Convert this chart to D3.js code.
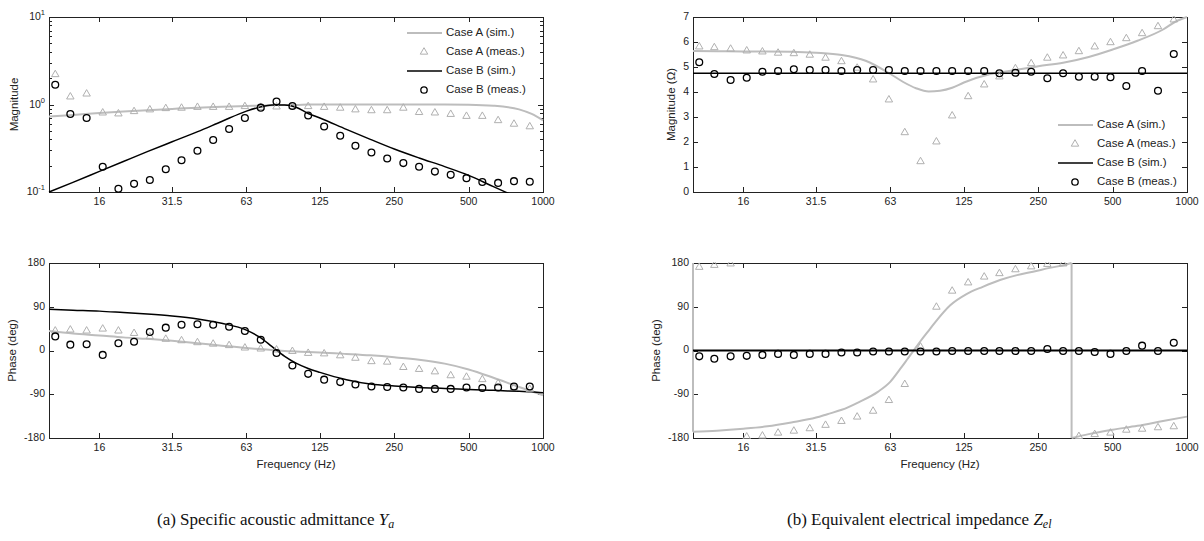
<!DOCTYPE html>
<html>
<head>
<meta charset="utf-8">
<script src="https://cdn.jsdelivr.net/npm/d3@7"></script>
<style>
  body { margin: 0; background: #fff; }
  svg text { font-family: "Liberation Sans", Arial, sans-serif; fill: #222; }
  .cap text, text.cap { font-family: "Liberation Serif", "Times New Roman", serif; fill: #111; }
</style>
</head>
<body>
<svg id="chart" width="1204" height="541"></svg>
<script>
// measured frequencies (1/5-ish octave steps)
const measFreq = [10.6, 12.2, 14.2, 16.5, 19.1, 22.1, 25.6, 29.7, 34.4, 39.9, 46.2, 53.6, 62.1, 72.0, 83.4, 96.7,
  112, 130, 151, 174, 202, 234, 272, 315, 365, 423, 490, 568, 658, 763, 884];

// (a) admittance magnitude
const admMagAMeas = [2.25, 1.25, 1.35, 0.82, 0.80, 0.85, 0.89, 0.92, 0.93, 0.95, 0.95, 0.95, 0.97, 0.95, 0.96, 0.97,
  0.97, 0.95, 0.93, 0.89, 0.87, 0.87, 0.93, 0.83, 0.82, 0.79, 0.75, 0.75, 0.67, 0.61, 0.57];
const admMagBMeas = [1.68, 0.78, 0.70, 0.194, 0.109, 0.124, 0.137, 0.182, 0.231, 0.296, 0.393, 0.525, 0.70, 0.92, 1.08, 0.96,
  0.75, 0.56, 0.44, 0.338, 0.283, 0.241, 0.214, 0.194, 0.171, 0.157, 0.144, 0.130, 0.127, 0.133, 0.131];
// (a) admittance phase
const admPhAMeas = [42, 44, 42, 46, 42, 37, 30, 25, 22, 18, 15, 12, 7, 5, 3, 0,
  -4, -5, -9, -14, -21, -22, -33, -37, -42, -50, -53, -58, -66, -74, -78];
const admPhBMeas = [29, 12, 13, -9, 15, 18, 38, 47, 53, 54, 53, 49, 40, 22, -5, -31,
  -48, -60, -65, -70, -74, -75, -76, -79, -79, -79, -76, -77, -76, -74, -74];

// (b) impedance magnitude
const impMagAMeas = [5.84, 5.81, 5.75, 5.68, 5.64, 5.59, 5.57, 5.51, 5.39, 5.25, 4.99, 4.52, 3.72, 2.41, 1.25,
  2.04, 3.08, 3.85, 4.32, 4.64, 4.97, 5.17, 5.39, 5.48, 5.65, 5.84, 6.01, 6.17, 6.37, 6.65, 6.92];
const impMagBMeas = [5.19, 4.72, 4.48, 4.57, 4.81, 4.84, 4.91, 4.88, 4.88, 4.84, 4.88, 4.88, 4.88, 4.84, 4.84,
  4.84, 4.84, 4.84, 4.84, 4.75, 4.77, 4.81, 4.55, 4.75, 4.61, 4.61, 4.59, 4.24, 4.84, 4.05, 5.52];
// (b) impedance phase
const impPhAMeas = [173, 177, 180, -176, -174, -168, -164, -159, -152, -144, -135, -123, -101, -68, 9,
  91, 124, 141, 153, 160, 168, 174, 179, 180, -175, -171, -168, -162, -160, -157, -155];
const impPhBMeas = [-12, -17, -12, -11, -9, -7, -9, -7, -7, -4, -4, -2, -2, -2, -2, -2, -1,
  -1, -1, -1, -1, -1, 3, -1, -1, -3, -7, -1, 10, -1, 16];

// simulated curves
const simFreq = [10, 12.5, 16, 20, 25, 31.5, 40, 50, 63, 71, 80, 90, 100, 112, 125, 160, 200, 250, 315, 400, 500, 630, 800, 900, 1000];
const admMagASim = [0.73, 0.76, 0.80, 0.83, 0.86, 0.89, 0.92, 0.94, 0.96, 0.97, 0.98, 0.99, 0.99, 1.0, 1.0, 1.0, 1.0, 1.0, 1.0, 1.0, 0.995, 0.97, 0.88, 0.78, 0.66];
const admMagBSim = [0.10, 0.129, 0.172, 0.223, 0.289, 0.375, 0.49, 0.64, 0.84, 0.93, 0.99, 0.99, 0.93, 0.79, 0.70, 0.52, 0.40, 0.31, 0.245, 0.195, 0.155, 0.115, 0.085, 0.073, 0.063];
const admPhASim = [40, 35, 31, 27, 24, 20, 15, 10, 5, 3, 1, -1, -2, -3, -4, -7, -10, -14, -19, -27, -39, -56, -75, -84, -92];
const admPhBSim = [85, 83, 81, 78, 75, 71, 65, 56, 42, 28, 8, -12, -26, -37, -45, -60, -69, -73, -76, -78, -80, -82, -84, -85, -87];
const impMagASim = [5.64, 5.63, 5.62, 5.62, 5.61, 5.57, 5.48, 5.25, 4.72, 4.40, 4.15, 4.02, 4.05, 4.17, 4.38, 4.72, 4.87, 5.03, 5.17, 5.40, 5.70, 6.05, 6.50, 6.82, 7.0];
const flatFreq = [10, 1000];
const impMagBSim = [4.75, 4.75];
const impPhBSim = [0, 0];
// phase of case A wraps at +-180
const impPhAFreq = [10, 10, 12.5, 16, 20, 25, 31.5, 35, 40, 47, 56, 63, 69, 74, 77, 83, 91, 97, 110, 128, 149, 175, 205, 238, 278, 326, 341, 341, 400, 500, 630, 800, 1000];
const impPhASim = [180, -167, -165, -161, -156, -148, -138, -131, -122, -106, -85, -64, -38, -17, -5, 18, 44, 62, 93, 116, 131, 145, 155, 162, 170, 177, 180, -180, -172, -163, -155, -145, -136];

const xTicks = [16, 31.5, 63, 125, 250, 500, 1000];
const xTickLabels = ["16", "31.5", "63", "125", "250", "500", "1000"];
const phaseTicks = [-180, -90, 0, 90, 180];
const ohmTicks = [0, 1, 2, 3, 4, 5, 6, 7];
const legendNames = ["Case A (sim.)", "Case A (meas.)", "Case B (sim.)", "Case B (meas.)"];

const GREY = "#bdbdbd", GREYM = "#b0b0b0", BLACK = "#000";
const svg = d3.select("#chart");
let clipId = 0;

function zip(f, v) { return f.map((d, i) => ({ f: d, v: v[i] })); }

function panel(o) {
  const x = d3.scaleLog().domain([10, 1000]).range([o.x0, o.x0 + 494]);
  const y = o.y;
  const g = svg.append("g");
  const top = y.range()[1], bot = y.range()[0];
  const cid = "clip" + (clipId++);
  svg.append("clipPath").attr("id", cid).append("rect")
    .attr("x", o.x0 - 1).attr("y", top - 1).attr("width", 496).attr("height", bot - top + 2);

  // frame
  g.append("rect").attr("x", o.x0 + 0.5).attr("y", top + 0.5).attr("width", 494).attr("height", bot - top)
    .attr("fill", "none").attr("stroke", "#222").attr("stroke-width", 1);

  // x ticks top & bottom
  xTicks.forEach((t, i) => {
    const px = Math.round(x(t)) + 0.5;
    if (t < 1000) {
      g.append("line").attr("x1", px).attr("x2", px).attr("y1", bot).attr("y2", bot - 5).attr("stroke", "#222");
      g.append("line").attr("x1", px).attr("x2", px).attr("y1", top).attr("y2", top + 5).attr("stroke", "#222");
    }
    g.append("text").attr("x", x(t)).attr("y", bot + 10).attr("text-anchor", "middle")
      .attr("dominant-baseline", "middle").attr("font-size", 10.5).text(xTickLabels[i]);
  });

  // y ticks
  const x1 = o.x0 + 494;
  o.yTicks.forEach(t => {
    const py = Math.round(y(t)) + 0.5;
    g.append("line").attr("x1", o.x0).attr("x2", o.x0 + 5).attr("y1", py).attr("y2", py).attr("stroke", "#222");
    g.append("line").attr("x1", x1).attr("x2", x1 - 5).attr("y1", py).attr("y2", py).attr("stroke", "#222");
  });
  (o.yMinor || []).forEach(t => {
    const py = Math.round(y(t)) + 0.5;
    g.append("line").attr("x1", o.x0).attr("x2", o.x0 + 3).attr("y1", py).attr("y2", py).attr("stroke", "#222");
    g.append("line").attr("x1", x1).attr("x2", x1 - 3).attr("y1", py).attr("y2", py).attr("stroke", "#222");
  });
  o.yTicks.forEach(t => {
    const tx = g.append("text").attr("x", o.x0 - 4).attr("y", y(t)).attr("text-anchor", "end")
      .attr("dominant-baseline", "middle").attr("font-size", 10.5);
    if (o.log) {
      tx.append("tspan").text("10");
      tx.append("tspan").attr("dy", -4).attr("font-size", 7.5).text(Math.round(Math.log10(t)));
    } else tx.text(t);
  });

  // axis labels
  g.append("text").attr("transform", `translate(${o.ylabX},${(top + bot) / 2}) rotate(-90)`)
    .attr("text-anchor", "middle").attr("dominant-baseline", "middle").attr("font-size", 11.5).text(o.ylabel);
  if (o.xlabel) {
    g.append("text").attr("x", o.x0 + 247).attr("y", bot + 27).attr("text-anchor", "middle")
      .attr("dominant-baseline", "middle").attr("font-size", 11.5).text(o.xlabel);
  }

  const data = svg.append("g").attr("clip-path", `url(#${cid})`);
  // lines (split at wraps where freq repeats)
  o.lines.forEach(L => {
    const pts = zip(L.f, L.v);
    const segs = [[pts[0]]];
    for (let i = 1; i < pts.length; i++) {
      if (pts[i].f === pts[i - 1].f) segs.push([pts[i]]);
      else segs[segs.length - 1].push(pts[i]);
    }
    const line = d3.line().x(d => x(d.f)).y(d => y(d.v)).curve(d3.curveMonotoneX);
    segs.forEach((s, k) => {
      if (s.length > 1) data.append("path").attr("d", line(s)).attr("fill", "none")
        .attr("stroke", L.color).attr("stroke-width", L.w);
      if (k > 0) {
        const a = segs[k - 1][segs[k - 1].length - 1], b = s[0];
        data.append("line").attr("x1", x(a.f)).attr("x2", x(b.f)).attr("y1", y(a.v)).attr("y2", y(b.v))
          .attr("stroke", L.color).attr("stroke-width", L.w);
      }
    });
  });
  // markers
  const tri = d3.symbol().type(d3.symbolTriangle).size(24);
  data.selectAll(null).data(zip(measFreq, o.triV)).enter().append("path")
    .attr("d", tri).attr("transform", d => `translate(${x(d.f)},${y(d.v) + 0.8})`)
    .attr("fill", "none").attr("stroke", GREYM).attr("stroke-width", 1);
  data.selectAll(null).data(zip(measFreq, o.cirV)).enter().append("circle")
    .attr("cx", d => x(d.f)).attr("cy", d => y(d.v)).attr("r", 3.4)
    .attr("fill", "none").attr("stroke", BLACK).attr("stroke-width", 1.3);

  // legend
  if (o.legend) {
    const lg = svg.append("g");
    const [lx, ly] = o.legend;
    legendNames.forEach((n, i) => {
      const yy = ly + i * 19;
      if (i === 0 || i === 2) {
        lg.append("line").attr("x1", lx).attr("x2", lx + 35).attr("y1", yy).attr("y2", yy)
          .attr("stroke", i === 0 ? GREY : BLACK).attr("stroke-width", i === 0 ? 2 : 1.6);
      } else if (i === 1) {
        lg.append("path").attr("d", tri).attr("transform", `translate(${lx + 17},${yy})`)
          .attr("fill", "none").attr("stroke", GREYM);
      } else {
        lg.append("circle").attr("cx", lx + 17).attr("cy", yy).attr("r", 3.2)
          .attr("fill", "none").attr("stroke", BLACK).attr("stroke-width", 1.3);
      }
      lg.append("text").attr("x", lx + 39).attr("y", yy).attr("dominant-baseline", "middle")
        .attr("font-size", 11.5).text(n);
    });
  }
}

const logY = d3.scaleLog().domain([0.1, 10]).range([192, 17]);
const minorLog = [0.2, 0.3, 0.4, 0.5, 0.6, 0.7, 0.8, 0.9, 2, 3, 4, 5, 6, 7, 8, 9];

panel({ x0: 49, y: logY, log: true, yTicks: [0.1, 1, 10], yMinor: minorLog, ylabel: "Magnitude", ylabX: 15,
  lines: [{ f: simFreq, v: admMagASim, color: GREY, w: 2 }, { f: simFreq, v: admMagBSim, color: BLACK, w: 1.5 }],
  triV: admMagAMeas, cirV: admMagBMeas, legend: [407, 33] });

panel({ x0: 49, y: d3.scaleLinear().domain([-180, 180]).range([438, 263]), yTicks: phaseTicks,
  ylabel: "Phase (deg)", ylabX: 13, xlabel: "Frequency (Hz)",
  lines: [{ f: simFreq, v: admPhASim, color: GREY, w: 2 }, { f: simFreq, v: admPhBSim, color: BLACK, w: 1.5 }],
  triV: admPhAMeas, cirV: admPhBMeas });

panel({ x0: 693, y: d3.scaleLinear().domain([0, 7]).range([192, 17]), yTicks: ohmTicks,
  ylabel: "Magnitude (\u03A9)", ylabX: 672,
  lines: [{ f: simFreq, v: impMagASim, color: GREY, w: 2 }, { f: flatFreq, v: impMagBSim, color: BLACK, w: 1.6 }],
  triV: impMagAMeas, cirV: impMagBMeas, legend: [1058, 125] });

panel({ x0: 693, y: d3.scaleLinear().domain([-180, 180]).range([438, 263]), yTicks: phaseTicks,
  ylabel: "Phase (deg)", ylabX: 657, xlabel: "Frequency (Hz)",
  lines: [{ f: impPhAFreq, v: impPhASim, color: GREY, w: 2 }, { f: flatFreq, v: impPhBSim, color: BLACK, w: 1.8 }],
  triV: impPhAMeas, cirV: impPhBMeas });

// captions
function caption(x0, pre, sym, sub) {
  const t = svg.append("text").attr("class", "cap").attr("x", x0).attr("y", 525).attr("font-size", 17);
  t.append("tspan").text(pre);
  t.append("tspan").attr("font-style", "italic").text(sym);
  t.append("tspan").attr("font-style", "italic").attr("font-size", 12).attr("dy", 3).text(sub);
}
caption(157, "(a)  Specific acoustic admittance ", "Y", "a");
caption(787, "(b)  Equivalent electrical impedance ", "Z", "el");
</script>
</body>
</html>
